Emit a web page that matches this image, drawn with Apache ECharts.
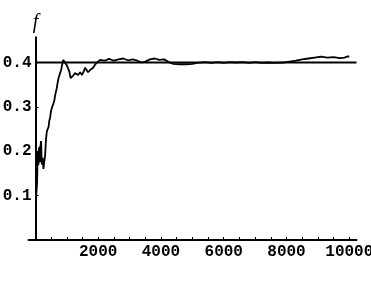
<!DOCTYPE html>
<html>
<head>
<meta charset="utf-8">
<script src="https://cdn.jsdelivr.net/npm/echarts@6/dist/echarts.min.js"></script>
<style>html,body{margin:0;padding:0;background:#fff}#c{width:371px;height:281px}</style>
</head>
<body>
<div id="c"></div>
<script>
// trial number n
var trials = [20, 54, 75, 96, 115, 134, 150, 166, 182, 198, 213, 235, 255, 280, 309, 335, 363, 390, 420, 445, 468, 495, 522, 560, 596, 640, 682, 710, 733, 760, 787, 825, 860, 892, 940, 1000, 1050, 1083, 1120, 1160, 1200, 1265, 1310, 1360, 1424, 1487, 1540, 1583, 1630, 1678, 1742, 1790, 1838, 1900, 1965, 2060, 2200, 2350, 2500, 2650, 2800, 2950, 3100, 3250, 3400, 3500, 3650, 3800, 3950, 4100, 4250, 4400, 4600, 4800, 5000, 5150, 5400, 5600, 5800, 6000, 6200, 6400, 6600, 6800, 7000, 7200, 7400, 7600, 7900, 8100, 8300, 8500, 8700, 8900, 9100, 9300, 9500, 9700, 9850, 9950, 10000];
// relative frequency f
var freq = [0.094, 0.13, 0.2, 0.169, 0.205, 0.21, 0.175, 0.215, 0.223, 0.18, 0.17, 0.185, 0.16, 0.175, 0.19, 0.225, 0.244, 0.25, 0.255, 0.27, 0.275, 0.29, 0.297, 0.305, 0.312, 0.33, 0.342, 0.355, 0.364, 0.368, 0.376, 0.385, 0.398, 0.406, 0.4, 0.394, 0.385, 0.379, 0.365, 0.368, 0.37, 0.376, 0.373, 0.372, 0.378, 0.372, 0.38, 0.388, 0.384, 0.378, 0.383, 0.386, 0.388, 0.395, 0.4, 0.406, 0.404, 0.408, 0.404, 0.407, 0.409, 0.405, 0.407, 0.404, 0.4, 0.402, 0.407, 0.409, 0.406, 0.407, 0.401, 0.397, 0.396, 0.396, 0.397, 0.399, 0.401, 0.399, 0.401, 0.399, 0.401, 0.4, 0.401, 0.399, 0.401, 0.399, 0.4, 0.399, 0.4, 0.402, 0.404, 0.407, 0.409, 0.411, 0.413, 0.411, 0.412, 0.41, 0.411, 0.414, 0.413];
var refLevel = [[0, 0.4], [10230, 0.4]];
var xTickLabels = [2000, 4000, 6000, 8000, 10000];
var yTickLabels = [0.1, 0.2, 0.3, 0.4];
var xMinorTicks = [500, 1000, 1500, 2000, 2500, 3000, 3500, 4000, 4500, 5000, 5500, 6000, 6500, 7000, 7500, 8000, 8500, 9000, 9500, 10000];

var data = trials.map(function (n, i) { return [n, freq[i]]; });
var chart = echarts.init(document.getElementById('c'), null, {renderer: 'canvas'});
var lblFont = {color: '#000', fontFamily: 'Liberation Mono', fontWeight: 'bold', fontSize: 16};
chart.setOption({
  animation: false,
  backgroundColor: '#fff',
  grid: {left: 28.5, width: 328, top: 37.2, height: 202.8, containLabel: false, outerBoundsMode: 'none'},
  xAxis: {
    type: 'value', min: -220, max: 10230,
    axisLine: {onZero: true, lineStyle: {color: '#000', width: 2}},
    splitLine: {show: false},
    axisTick: {inside: true, length: 3, lineStyle: {color: '#000', width: 1}, customValues: xMinorTicks},
    axisLabel: Object.assign({customValues: xTickLabels, margin: 4, showMaxLabel: true, hideOverlap: false, formatter: function (v) { return String(v); }}, lblFont)
  },
  yAxis: {
    type: 'value', min: 0, max: 0.457,
    name: 'f', nameLocation: 'end', nameGap: 4,
    nameTextStyle: {fontFamily: 'Liberation Serif', fontStyle: 'italic', fontSize: 20, color: '#000'},
    axisLine: {onZero: true, lineStyle: {color: '#000', width: 2}},
    splitLine: {show: false},
    axisTick: {inside: true, length: 3, lineStyle: {color: '#000', width: 1}, customValues: yTickLabels},
    axisLabel: Object.assign({customValues: yTickLabels, margin: -3, formatter: function (v) { return v.toFixed(1); }}, lblFont)
  },
  series: [
    {type: 'line', data: refLevel, symbol: 'none', lineStyle: {color: '#000', width: 2}, silent: true},
    {type: 'line', data: data, symbol: 'none', lineStyle: {color: '#000', width: 1.8}, silent: true}
  ]
});
</script>
</body>
</html>
